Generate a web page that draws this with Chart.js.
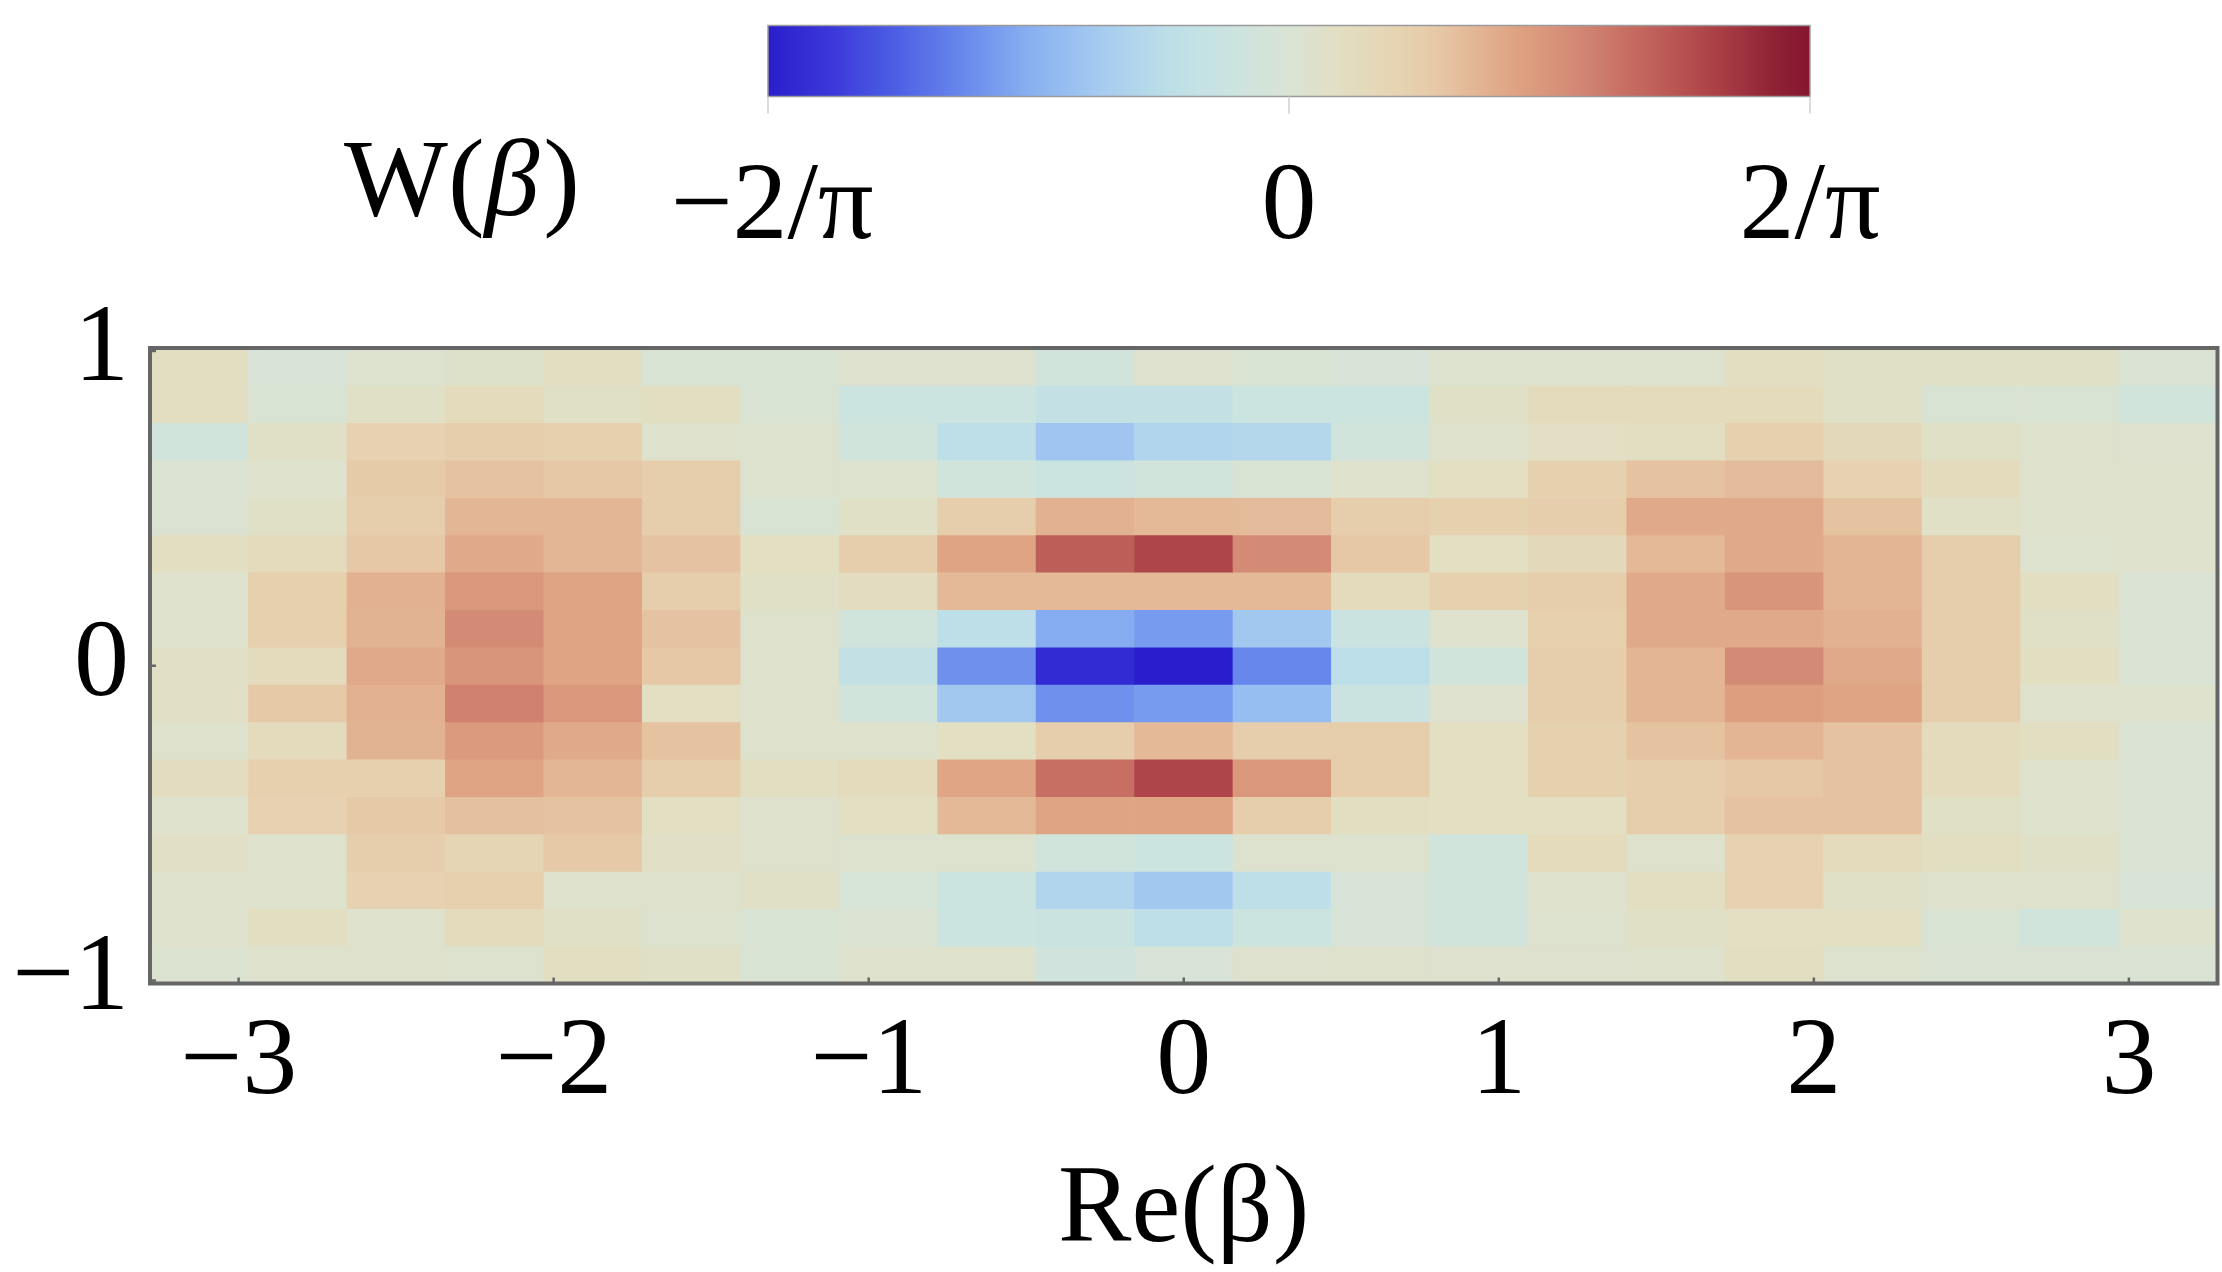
<!DOCTYPE html>
<html>
<head>
<meta charset="utf-8">
<script src="https://cdn.jsdelivr.net/npm/chart.js@4.4.1/dist/chart.umd.min.js"></script>
<style>
html,body{margin:0;padding:0;background:#ffffff;}
#wrap{width:2222px;height:1272px;position:relative;}
</style>
</head>
<body>
<div id="wrap"><canvas id="c" width="2222" height="1272"></canvas></div>
<script>
// ---- grid coordinates (cell centres) ----
const xValues = [-3.125, -2.8125, -2.5, -2.1875, -1.875, -1.5625, -1.25, -0.9375, -0.625, -0.3125, 0,
                 0.3125, 0.625, 0.9375, 1.25, 1.5625, 1.875, 2.1875, 2.5, 2.8125, 3.125];
const yValues = [0.95, 0.83125, 0.7125, 0.59375, 0.475, 0.35625, 0.2375, 0.11875, 0,
                 -0.11875, -0.2375, -0.35625, -0.475, -0.59375, -0.7125, -0.83125, -0.95];

// ---- tick labels ----
const xTickValues = [-3, -2, -1, 0, 1, 2, 3];
const xTickLabels = ['\u22123', '\u22122', '\u22121', '0', '1', '2', '3'];
const yTickValues = [-1, 0, 1];
const yTickLabels = ['\u22121', '0', '1'];
const colorbarTickLabels = ['\u22122/\u03c0', '0', '2/\u03c0'];
const xTitle = 'Re(\u03b2)';
const colorbarTitle = 'W(\u03b2)';

// ---- Wigner function values W(beta), one array per row (top row = largest Im(beta)) ----
const wRow0  = [0.065, -0.01, 0.02, 0.035, 0.065, 0.0, 0.0, 0.025, 0.025, -0.045, 0.025, 0.0, -0.013, 0.02, 0.02, 0.02, 0.065, 0.045, 0.045, 0.045, 0.005];
const wRow1  = [0.07, 0.0, 0.045, 0.09, 0.045, 0.065, 0.0, -0.07, -0.07, -0.115, -0.115, -0.07, -0.07, 0.045, 0.09, 0.09, 0.09, 0.045, 0.0, 0.0, -0.04];
const wRow2  = [-0.04, 0.045, 0.14, 0.155, 0.145, 0.03, 0.02, -0.045, -0.14, -0.25, -0.19, -0.18, -0.04, 0.03, 0.055, 0.065, 0.145, 0.1, 0.045, 0.03, 0.025];
const wRow3  = [0.01, 0.03, 0.17, 0.197, 0.18, 0.16, 0.02, 0.02, -0.045, -0.07, -0.04, 0.0, 0.03, 0.06, 0.145, 0.197, 0.215, 0.14, 0.09, 0.03, 0.03];
const wRow4  = [0.01, 0.045, 0.16, 0.225, 0.225, 0.16, 0.0, 0.045, 0.16, 0.24, 0.22, 0.215, 0.16, 0.145, 0.16, 0.26, 0.26, 0.197, 0.045, 0.03, 0.03];
const wRow5  = [0.065, 0.09, 0.18, 0.26, 0.225, 0.195, 0.06, 0.16, 0.274, 0.45, 0.51, 0.344, 0.18, 0.06, 0.1, 0.22, 0.26, 0.23, 0.16, 0.02, 0.03];
const wRow6  = [0.03, 0.15, 0.24, 0.31, 0.274, 0.16, 0.045, 0.075, 0.22, 0.22, 0.22, 0.22, 0.09, 0.145, 0.155, 0.26, 0.315, 0.23, 0.16, 0.065, 0.005];
const wRow7  = [0.03, 0.15, 0.235, 0.344, 0.274, 0.195, 0.03, -0.045, -0.14, -0.325, -0.36, -0.24, -0.08, 0.03, 0.15, 0.26, 0.26, 0.24, 0.16, 0.045, 0.005];
const wRow8  = [0.05, 0.09, 0.26, 0.315, 0.274, 0.18, 0.03, -0.115, -0.38, -0.60, -0.637, -0.40, -0.15, -0.04, 0.16, 0.23, 0.344, 0.26, 0.16, 0.065, 0.005];
const wRow9  = [0.05, 0.175, 0.24, 0.37, 0.31, 0.06, 0.03, -0.045, -0.24, -0.38, -0.36, -0.274, -0.08, 0.025, 0.155, 0.23, 0.29, 0.274, 0.16, 0.03, 0.03];
const wRow10 = [0.03, 0.09, 0.235, 0.30, 0.26, 0.197, 0.03, 0.03, 0.06, 0.16, 0.22, 0.16, 0.16, 0.06, 0.145, 0.197, 0.23, 0.197, 0.09, 0.065, 0.005];
const wRow11 = [0.075, 0.15, 0.15, 0.274, 0.225, 0.16, 0.065, 0.09, 0.27, 0.41, 0.51, 0.31, 0.16, 0.06, 0.145, 0.16, 0.18, 0.197, 0.09, 0.03, 0.005];
const wRow12 = [0.03, 0.14, 0.175, 0.2, 0.197, 0.06, 0.03, 0.06, 0.22, 0.274, 0.274, 0.16, 0.065, 0.06, 0.06, 0.16, 0.197, 0.197, 0.045, 0.03, 0.005];
const wRow13 = [0.05, 0.03, 0.155, 0.12, 0.175, 0.05, 0.03, 0.02, 0.02, -0.04, -0.07, 0.02, 0.02, -0.04, 0.09, 0.03, 0.14, 0.09, 0.065, 0.045, 0.005];
const wRow14 = [0.03, 0.03, 0.14, 0.15, 0.03, 0.03, 0.045, -0.015, -0.07, -0.19, -0.24, -0.14, -0.013, -0.04, 0.03, 0.065, 0.14, 0.045, 0.03, 0.03, -0.013];
const wRow15 = [0.03, 0.065, 0.03, 0.09, 0.045, 0.02, 0.0, 0.01, -0.07, -0.08, -0.14, -0.07, -0.013, -0.04, 0.02, 0.045, 0.06, 0.06, 0.0, -0.04, 0.03];
const wRow16 = [0.015, 0.03, 0.03, 0.02, 0.065, 0.045, 0.0, 0.03, 0.03, -0.05, -0.013, 0.025, 0.03, 0.025, 0.025, 0.03, 0.065, 0.02, 0.005, 0.005, 0.005];
const wRows = [wRow0, wRow1, wRow2, wRow3, wRow4, wRow5, wRow6, wRow7, wRow8, wRow9, wRow10,
               wRow11, wRow12, wRow13, wRow14, wRow15, wRow16];

// ---- colour map (range -2/pi .. 2/pi) ----
const W_MAX = 2 / Math.PI;
const cmapStops = [
  [0.000, '#2a1ecc'], [0.057, '#3a36d8'], [0.121, '#4c5ee4'], [0.187, '#6888ec'],
  [0.251, '#88b0f0'], [0.316, '#a4caf0'], [0.381, '#bcdee8'], [0.446, '#cce4e0'],
  [0.500, '#d9e3d4'], [0.545, '#e2dfc4'], [0.610, '#e6d2b0'], [0.642, '#e6c8a6'],
  [0.690, '#e2b090'], [0.723, '#dea080'], [0.772, '#d48a76'], [0.820, '#c87064'],
  [0.869, '#ba5654'], [0.918, '#a83c44'], [0.966, '#8e2234'], [1.000, '#861530']
];
function hexToRgb(h) {
  return [parseInt(h.substr(1, 2), 16), parseInt(h.substr(3, 2), 16), parseInt(h.substr(5, 2), 16)];
}
function colorFor(w) {
  let t = (w + W_MAX) / (2 * W_MAX);
  t = Math.max(0, Math.min(1, t));
  for (let i = 1; i < cmapStops.length; i++) {
    if (t <= cmapStops[i][0]) {
      const [t0, c0] = cmapStops[i - 1];
      const [t1, c1] = cmapStops[i];
      const f = (t - t0) / (t1 - t0);
      const a = hexToRgb(c0), b = hexToRgb(c1);
      const r = Math.round(a[0] + (b[0] - a[0]) * f);
      const g = Math.round(a[1] + (b[1] - a[1]) * f);
      const bl = Math.round(a[2] + (b[2] - a[2]) * f);
      return 'rgb(' + r + ',' + g + ',' + bl + ')';
    }
  }
  return cmapStops[cmapStops.length - 1][1];
}

const FONT = "'Liberation Serif', 'Times New Roman', serif";
const halfH = (yValues[0] - yValues[1]) / 2;
const halfW = (xValues[1] - xValues[0]) / 2;

const datasets = yValues.map((yc, r) => ({
  label: 'Im(\u03b2) = ' + yc,
  data: xValues.map(x => ({ x: x, y: [yc - halfH, yc + halfH] })),
  backgroundColor: wRows[r].map(colorFor),
  borderWidth: 0,
  grouped: false,
  barPercentage: 1,
  categoryPercentage: 1
}));

// frame + small inner ticks
const framePlugin = {
  id: 'frame',
  afterDatasetsDraw(chart) {
    const { ctx, chartArea: a, scales } = chart;
    ctx.save();
    ctx.strokeStyle = '#666666';
    ctx.lineWidth = 4;
    ctx.strokeRect(a.left, a.top, a.right - a.left, a.bottom - a.top);
    ctx.lineWidth = 2.5;
    xTickValues.forEach(v => {
      const px = scales.x.getPixelForValue(v);
      ctx.beginPath(); ctx.moveTo(px, a.bottom); ctx.lineTo(px, a.bottom - 6); ctx.stroke();
    });
    yTickValues.forEach(v => {
      const py = scales.y.getPixelForValue(v);
      ctx.beginPath(); ctx.moveTo(a.left, py); ctx.lineTo(a.left + 6, py); ctx.stroke();
    });
    ctx.restore();
  }
};

// colour bar legend
const colorbarPlugin = {
  id: 'colorbar',
  afterDraw(chart) {
    const ctx = chart.ctx;
    const x0 = 768, x1 = 1810, y0 = 25.5, y1 = 96.5;
    ctx.save();
    const grad = ctx.createLinearGradient(x0, 0, x1, 0);
    cmapStops.forEach(s => grad.addColorStop(s[0], s[1]));
    ctx.fillStyle = grad;
    ctx.fillRect(x0, y0, x1 - x0, y1 - y0);
    ctx.strokeStyle = '#9a9a9a';
    ctx.lineWidth = 1.5;
    ctx.strokeRect(x0, y0, x1 - x0, y1 - y0);
    ctx.strokeStyle = '#cfcfcf';
    ctx.lineWidth = 1.5;
    const tickXs = [x0, (x0 + x1) / 2, x1];
    tickXs.forEach(tx => {
      ctx.beginPath(); ctx.moveTo(tx, y1); ctx.lineTo(tx, y1 + 17); ctx.stroke();
    });
    ctx.fillStyle = '#000000';
    ctx.font = '110px ' + FONT;
    ctx.textAlign = 'center';
    ctx.textBaseline = 'alphabetic';
    colorbarTickLabels.forEach((lab, i) => ctx.fillText(lab, tickXs[i] + (i === 0 ? 4 : 0), 238));
    // W(beta) with italic beta
    const partA = 'W(', partB = '\u03b2', partC = ')';
    ctx.textAlign = 'left';
    ctx.font = '110px ' + FONT;
    const wA = ctx.measureText(partA).width;
    const wC = ctx.measureText(partC).width;
    ctx.font = 'italic 110px ' + FONT;
    const wB = ctx.measureText(partB).width;
    let sx = 460 - (wA + wB + wC) / 2;
    ctx.font = '110px ' + FONT;
    ctx.fillText(partA, sx, 215);
    ctx.font = 'italic 110px ' + FONT;
    ctx.fillText(partB, sx + wA, 215);
    ctx.font = '110px ' + FONT;
    ctx.fillText(partC, sx + wA + wB + 4, 215);
    ctx.restore();
  }
};

new Chart(document.getElementById('c'), {
  type: 'bar',
  data: { datasets: datasets },
  options: {
    responsive: false,
    animation: false,
    devicePixelRatio: 1,
    layout: { padding: { left: 0, right: 4.5, top: 348, bottom: 0 } },
    plugins: { legend: { display: false }, tooltip: { enabled: false }, title: { display: false } },
    scales: {
      x: {
        type: 'linear',
        offset: false,
        min: xValues[0] - halfW,
        max: xValues[xValues.length - 1] + halfW,
        grid: { display: false, drawTicks: false },
        border: { display: false },
        afterBuildTicks: s => { s.ticks = xTickValues.map(v => ({ value: v })); },
        afterFit: s => { s.height = 288.5; },
        ticks: {
          autoSkip: false, maxRotation: 0, minRotation: 0, padding: 26, color: '#000000',
          font: { family: FONT, size: 110, lineHeight: 1 },
          callback: (v) => xTickLabels[xTickValues.indexOf(v)]
        },
        title: {
          display: true, text: xTitle, color: '#000000',
          font: { family: FONT, size: 110, lineHeight: 1 },
          padding: { top: 0, bottom: 5 }
        }
      },
      y: {
        type: 'linear',
        min: yValues[yValues.length - 1] - halfH,
        max: yValues[0] + halfH,
        grid: { display: false, drawTicks: false },
        border: { display: false },
        afterBuildTicks: s => { s.ticks = yTickValues.map(v => ({ value: v })); },
        afterFit: s => { s.width = 150; },
        ticks: {
          autoSkip: false, padding: 21, color: '#000000',
          font: { family: FONT, size: 110, lineHeight: 1 },
          callback: (v) => yTickLabels[yTickValues.indexOf(v)]
        }
      }
    }
  },
  plugins: [framePlugin, colorbarPlugin]
});
</script>
</body>
</html>
